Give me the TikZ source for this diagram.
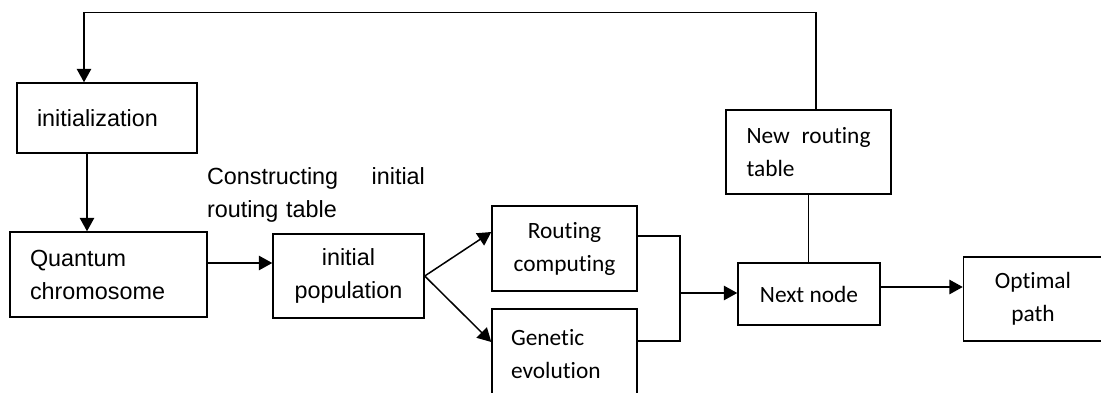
\documentclass[tikz,border=0pt]{standalone}
\usepackage{fontspec}
\setmainfont{Liberation Sans}
\newfontfamily\calibfont[Ligatures=NoCommon]{Carlito}
\usetikzlibrary{positioning, arrows.meta}

\begin{document}
\begin{tikzpicture}[
  x=0.02cm, y=-0.02cm,
  font=\fontsize{13.3}{18.8}\selectfont,
  box/.style   ={rectangle, draw, line width=0.85pt, inner sep=0pt, align=center},
  abox/.style  ={box},
  cbox/.style  ={box, font=\fontsize{13.3}{18.8}\selectfont\calibfont},
  flow/.style  ={-{Triangle[length=2.7mm, width=2.9mm]}, line width=0.85pt},
  link/.style  ={line width=0.85pt}
]
\useasboundingbox (0,0) rectangle (1101,392);
\clip (0,0) rectangle (1101,392);

% ---------- Left column ----------
\node[abox, minimum width=3.6cm, minimum height=1.4cm, text width=2.8cm, align=left]
  (init) at (107,118) {initialization};
\node[abox, minimum width=3.94cm, minimum height=1.7cm, text width=3.14cm, align=left]
  (quant) at (108.5,274.5) {Quantum\\chromosome};
\node[abox, minimum width=3.02cm, minimum height=1.68cm]
  (pop) at (348.5,276) {initial\\population};
\node[inner sep=0pt, text width=4.36cm, align=left]
  (construct) at (316,195) {Constructing\hfill initial\\routing table};

% ---------- Middle ----------
\node[cbox, minimum width=2.9cm, minimum height=1.7cm]
  (routing) at (564.5,248.5) {Routing\\computing};
\node[cbox, minimum width=2.9cm, minimum height=1.8cm, text width=2.14cm, align=left]
  (genetic) at (564.5,354) {Genetic\\evolution};
\coordinate (join) at (680,293);

% ---------- Right ----------
\node[cbox, minimum width=3.3cm, minimum height=1.68cm, text width=2.48cm, align=left]
  (newtable) at (808.5,152) {New\hfill routing\\table};
\node[cbox, minimum width=2.84cm, minimum height=1.24cm]
  (next) at (809,294) {Next node};
\node[cbox, minimum width=2.78cm, minimum height=1.68cm]
  (optimal) at (1033,299) {Optimal\\path};
\coordinate (fb) at (450,12.5);

% ---------- Arrows ----------
\draw[flow] ([xshift=-4mm]init.south) -- ([xshift=-4mm]init.south |- quant.north);
\draw[flow] ([yshift=2.3mm]quant.east) -- ([yshift=2.3mm]quant.east -| pop.west);
\draw[flow] (pop.east) -- ([yshift=3.3mm]routing.west);
\draw[flow] (pop.east) -- ([yshift=2.4mm]genetic.west);
\draw[link] ([yshift=2.5mm]routing.east) -| (join) |- ([yshift=2.6mm]genetic.east);
\draw[flow] (join) -- (join -| next.west);
\draw[link] (newtable.south) -- (newtable.south |- next.north);
\draw[flow] ([yshift=1.4mm]next.east) -- ([yshift=1.4mm]next.east -| optimal.west);

% ---------- Feedback loop ----------
\draw[flow] ([xshift=1.5mm]newtable.north) |- (fb) -| ([xshift=-4.6mm]init.north);

\end{tikzpicture}
\end{document}
